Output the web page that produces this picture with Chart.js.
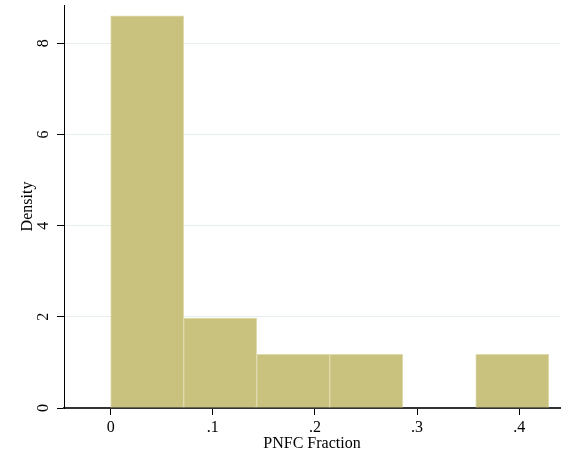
<!DOCTYPE html>
<html>
<head>
<meta charset="utf-8">
<script src="https://cdn.jsdelivr.net/npm/chart.js@4.4.1/dist/chart.umd.min.js"></script>
<style>
  html, body { margin: 0; padding: 0; background: #fff; }
  #wrap { width: 565px; height: 451px; }
</style>
</head>
<body>
<div id="wrap"><canvas id="hist"></canvas></div>
<script>
// histogram bins (PNFC Fraction) and their densities
let binEdges = [0, 0.0715, 0.143, 0.2145, 0.286, 0.3575, 0.429];
let densities = [8.6, 1.97, 1.18, 1.18, 0, 1.18];
let xTicks = [0, 0.1, 0.2, 0.3, 0.4];
let yTicks = [0, 2, 4, 6, 8];

let points = densities.map(function(d, i){
    return { x: (binEdges[i] + binEdges[i+1]) / 2, y: d };
});

let serif = "'Liberation Serif', 'Times New Roman', serif";

new Chart(document.getElementById("hist"), {
    type: 'bar',
    data: {
      datasets: [{
          data: points,
          backgroundColor: "#c9c27e",
          borderColor: "#e0dbae",
          borderWidth: 1,
          borderSkipped: 'bottom',
          barPercentage: 1,
          categoryPercentage: 1,
          grouped: false
        }
      ]
    },
    options: {
      responsive: true,
      maintainAspectRatio: false,
      animation: false,
      layout: { padding: { top: 5, right: 5, left: 0, bottom: 0 } },
      plugins: { legend: { display: false }, tooltip: { enabled: false } },
      scales: {
        x: {
          type: 'linear',
          min: -0.0457,
          max: 0.44,
          offset: false,
          afterBuildTicks: function(scale){ scale.ticks = xTicks.map(function(v){ return { value: v }; }); },
          afterFit: function(scale){ scale.height = 43; scale.paddingLeft = 0; scale.paddingRight = 0; },
          grid: { drawOnChartArea: false, offset: false, tickLength: 7, tickColor: '#000', tickWidth: 1 },
          border: { color: '#333', width: 2 },
          ticks: {
            padding: 3,
            color: '#000',
            font: { family: serif, size: 16 },
            maxRotation: 0,
            callback: function(v){ return v === 0 ? '0' : String(+v.toFixed(2)).replace('0.', '.'); }
          },
          title: {
            display: true,
            text: 'PNFC Fraction',
            color: '#000',
            font: { family: serif, size: 16, lineHeight: 0.9 },
            padding: { top: 0, bottom: 0 }
          }
        },
        y: {
          min: 0,
          max: 8.84,
          afterBuildTicks: function(scale){ scale.ticks = yTicks.map(function(v){ return { value: v }; }); },
          afterFit: function(scale){ scale.width = 64; scale.paddingTop = 0; scale.paddingBottom = 0; },
          grid: { color: '#e6eef1', lineWidth: 1, tickLength: 7, tickColor: '#000', tickWidth: 1 },
          border: { color: '#000', width: 1 },
          ticks: {
            padding: 9,
            color: '#000',
            minRotation: 90,
            maxRotation: 90,
            crossAlign: 'center',
            font: { family: serif, size: 16 }
          },
          title: {
            display: true,
            text: 'Density',
            color: '#000',
            font: { family: serif, size: 16, lineHeight: 1.2 },
            padding: { top: 18, bottom: 0 }
          }
        }
      }
    }
  });
</script>
</body>
</html>
